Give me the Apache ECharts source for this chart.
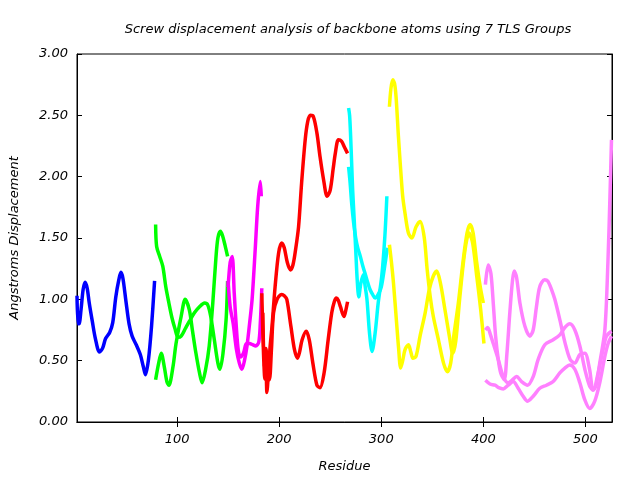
<!DOCTYPE html>
<html>
<head>
<meta charset="utf-8">
<script src="https://cdn.jsdelivr.net/npm/echarts@6/dist/echarts.min.js"></script>
<style>html,body{margin:0;padding:0;background:#fff}#c{width:640px;height:480px}</style>
</head>
<body>
<div id="c"></div>
<script>
const xTicks = [100, 200, 300, 400, 500];

const blueX = [2, 3, 4, 6, 8, 10, 12, 14, 17, 20, 24, 27, 30, 34, 37, 40, 43, 45, 47, 50, 53, 56, 60, 64, 67, 69, 72, 75, 78];
const blueY = [1.03, 0.80, 0.80, 0.92, 1.08, 1.14, 1.09, 0.97, 0.82, 0.68, 0.57, 0.60, 0.68, 0.73, 0.81, 1.02, 1.16, 1.22, 1.17, 0.98, 0.80, 0.70, 0.63, 0.55, 0.45, 0.385, 0.51, 0.78, 1.15];

const greenAX = [79, 80, 83, 86, 89, 92, 95, 98, 101, 104, 108, 112, 117, 122, 127, 130, 133, 136.5, 140, 142, 145, 148, 149.5];
const greenAY = [1.61, 1.43, 1.35, 1.27, 1.10, 0.97, 0.85, 0.76, 0.69, 0.70, 0.76, 0.82, 0.89, 0.94, 0.97, 0.955, 0.86, 0.67, 0.48, 0.43, 0.56, 0.83, 1.15];
const greenBX = [79, 82, 84.5, 87.5, 90, 92, 96, 99, 104, 108, 112, 115, 118.5, 122, 124.5, 128, 131.5, 135, 138, 140, 142.5, 144.5, 147, 149.5];
const greenBY = [0.345, 0.48, 0.56, 0.45, 0.33, 0.30, 0.45, 0.64, 0.86, 1.0, 0.915, 0.75, 0.56, 0.40, 0.32, 0.43, 0.62, 0.97, 1.33, 1.50, 1.555, 1.52, 1.44, 1.35];

const magentaAX = [150, 152, 154, 156, 158, 160, 162, 165, 168, 171, 174, 177, 180, 181.5, 183];
const magentaAY = [1.10, 1.30, 1.35, 1.05, 0.78, 0.58, 0.53, 0.56, 0.64, 0.64, 0.63, 0.62, 0.65, 0.80, 1.09];
const magentaBX = [150, 152, 155, 158, 161, 163.5, 166, 168.5, 171, 173.5, 176.5, 179, 181.5, 182.5];
const magentaBY = [1.15, 0.94, 0.80, 0.60, 0.48, 0.43, 0.50, 0.62, 0.80, 1.00, 1.40, 1.76, 1.96, 1.84];

const redAX = [183, 184.5, 186, 187, 188, 189.5, 191, 193, 196, 199.5, 202.5, 205, 208, 211, 213.5, 216, 219, 222, 225.5, 228, 230.5, 233.5, 237, 240, 243.5, 247, 250, 253, 255, 258, 261, 264, 267];
const redAY = [1.05, 0.60, 0.35, 0.55, 0.24, 0.40, 0.60, 0.78, 1.10, 1.38, 1.46, 1.42, 1.30, 1.24, 1.28, 1.40, 1.59, 1.95, 2.30, 2.45, 2.50, 2.49, 2.355, 2.165, 1.975, 1.84, 1.89, 2.07, 2.19, 2.30, 2.29, 2.24, 2.19];
const redBX = [184, 185.5, 187, 189, 190.5, 192.5, 194.5, 198, 202.5, 205, 207.5, 211.5, 215, 218, 220, 222.5, 226.5, 229.5, 233, 237, 240, 244, 248, 251.5, 254, 256, 258, 260, 263.5, 265, 267];
const redBY = [0.89, 0.45, 0.60, 0.40, 0.345, 0.60, 0.89, 1.0, 1.04, 1.03, 1.0, 0.78, 0.59, 0.52, 0.57, 0.67, 0.74, 0.67, 0.48, 0.30, 0.28, 0.40, 0.67, 0.89, 0.98, 1.01, 0.99, 0.94, 0.86, 0.90, 0.98];

const cyanAX = [268, 269, 270, 271, 272, 273.5, 275, 276.5, 278, 280, 282.5, 284, 286, 288.5, 291, 294, 297, 300.5, 303.5, 305.5];
const cyanAY = [2.56, 2.50, 2.33, 2.11, 1.89, 1.65, 1.40, 1.15, 1.02, 1.13, 1.20, 1.12, 1.0, 0.725, 0.575, 0.725, 0.97, 1.19, 1.51, 1.84];
const cyanBX = [268, 269.5, 271, 273, 275, 277, 279.5, 282, 284.5, 287, 289, 291.5, 294, 297, 300, 303, 306];
const cyanBY = [2.08, 1.95, 1.785, 1.62, 1.50, 1.42, 1.35, 1.27, 1.20, 1.13, 1.08, 1.04, 1.01, 1.04, 1.10, 1.25, 1.42];

const yellowAX = [308, 309.5, 311.3, 313, 314.5, 316.8, 319, 321, 323.3, 326.6, 330, 334, 338, 342, 345, 348, 351, 356, 361, 364.7, 368, 371, 375.5, 380, 384, 387, 390, 393.5, 397, 400];
const yellowAY = [2.57, 2.72, 2.79, 2.76, 2.65, 2.33, 2.06, 1.84, 1.70, 1.54, 1.50, 1.59, 1.635, 1.51, 1.24, 1.02, 0.86, 0.67, 0.48, 0.41, 0.48, 0.70, 0.97, 1.30, 1.54, 1.61, 1.54, 1.30, 1.10, 0.97];
const yellowBX = [308, 310, 312, 315, 317, 319, 321, 323.3, 326.6, 329, 331, 334, 338, 343, 347, 351, 354.3, 358, 362.4, 366.7, 370, 373, 377, 382, 386, 389.5, 393.5, 397.4, 400.6];
const yellowBY = [1.445, 1.30, 1.13, 0.81, 0.60, 0.44, 0.50, 0.59, 0.63, 0.57, 0.52, 0.535, 0.70, 0.89, 1.08, 1.19, 1.23, 1.13, 0.915, 0.70, 0.56, 0.66, 1.02, 1.40, 1.54, 1.46, 1.19, 0.915, 0.64];

const violetAX = [402, 404.8, 407.4, 409.7, 412, 414.6, 417, 420.5, 423, 426, 428.5, 430.2, 432.5, 435.8, 440.7, 445.6, 448.8, 452, 455.3, 460, 463, 466.8, 470, 475, 480, 485, 489.6, 494.5, 499.4, 504, 507.5, 510.5, 514, 519, 522, 524, 525.5];
const violetAY = [1.12, 1.28, 1.21, 0.97, 0.70, 0.51, 0.40, 0.345, 0.55, 0.90, 1.15, 1.23, 1.18, 0.97, 0.78, 0.70, 0.75, 0.94, 1.105, 1.16, 1.15, 1.08, 1.0, 0.83, 0.645, 0.51, 0.48, 0.55, 0.56, 0.43, 0.26, 0.30, 0.48, 0.75, 1.30, 1.84, 2.30];
const violetBX = [402, 404.2, 407, 409.7, 414.6, 419.5, 424.3, 428, 432.5, 437.4, 443.3, 448.8, 453.7, 460.2, 468.4, 474.9, 479.8, 484.7, 489.6, 494.5, 499.4, 504.2, 507.5, 512.4, 517.3, 520.6, 525.5];
const violetBY = [0.75, 0.77, 0.71, 0.64, 0.51, 0.37, 0.32, 0.34, 0.37, 0.33, 0.30, 0.37, 0.51, 0.63, 0.67, 0.71, 0.77, 0.80, 0.75, 0.62, 0.43, 0.29, 0.26, 0.40, 0.59, 0.70, 0.74];
const violetCX = [402, 406.5, 411.4, 415, 419.5, 424.3, 429.2, 434.1, 439, 443.3, 448.8, 455.3, 461.8, 468.4, 474.9, 479.8, 484.7, 489.6, 494.5, 499.4, 504.2, 509.1, 514, 518.9, 522.2, 525.5];
const violetCY = [0.34, 0.31, 0.30, 0.28, 0.27, 0.30, 0.33, 0.275, 0.21, 0.17, 0.21, 0.275, 0.30, 0.33, 0.40, 0.44, 0.465, 0.43, 0.32, 0.18, 0.11, 0.17, 0.32, 0.53, 0.64, 0.70];

const lines = [
  [blueX, blueY, '#0000ff'],
  [greenAX, greenAY, '#00ff00'], [greenBX, greenBY, '#00ff00'],
  [magentaAX, magentaAY, '#ff00ff'], [magentaBX, magentaBY, '#ff00ff'],
  [redAX, redAY, '#ff0000'], [redBX, redBY, '#ff0000'],
  [cyanAX, cyanAY, '#00ffff'], [cyanBX, cyanBY, '#00ffff'],
  [yellowAX, yellowAY, '#ffff00'], [yellowBX, yellowBY, '#ffff00'],
  [violetAX, violetAY, '#ff80ff'], [violetBX, violetBY, '#ff80ff'], [violetCX, violetCY, '#ff80ff']
];

const FONT = 'DejaVu Sans';
const txt = {fontFamily: FONT, fontStyle: 'italic', fontSize: 13, color: '#000'};

const chart = echarts.init(document.getElementById('c'), null, {renderer: 'canvas'});
chart.setOption({
  animation: false,
  backgroundColor: '#fff',
  title: {
    text: 'Screw displacement analysis of backbone atoms using 7 TLS Groups',
    left: 343, top: 18, textAlign: 'center',
    textStyle: Object.assign({}, txt, {fontWeight: 'normal'})
  },
  grid: {left: 76, right: 28, top: 54, bottom: 58, show: true, borderColor: '#000', borderWidth: 1, backgroundColor: 'transparent'},
  xAxis: [{
    type: 'value', min: 2, max: 526, position: 'bottom',
    name: 'Residue', nameLocation: 'middle', nameGap: 38, nameTextStyle: txt,
    axisLine: {show: true, lineStyle: {color: '#000', width: 1}},
    axisTick: {show: true, inside: true, length: 5, customValues: xTicks, lineStyle: {color: '#000'}},
    axisLabel: {customValues: xTicks, margin: 11, ...txt},
    splitLine: {show: false}
  }, {
    type: 'value', min: 2, max: 526, position: 'top',
    axisLine: {show: true, lineStyle: {color: '#000', width: 1}},
    axisTick: {show: true, inside: true, length: 5, customValues: xTicks, lineStyle: {color: '#000'}},
    axisLabel: {show: false}, splitLine: {show: false}
  }],
  yAxis: [{
    type: 'value', min: 0, max: 3, interval: 0.5, position: 'left',
    name: 'Angstroms Displacement', nameLocation: 'middle', nameGap: 56, nameTextStyle: txt,
    axisLine: {show: true, lineStyle: {color: '#000', width: 1}},
    axisTick: {show: true, inside: true, length: 5, lineStyle: {color: '#000'}},
    axisLabel: {margin: 9, formatter: v => v.toFixed(2), ...txt},
    splitLine: {show: false}
  }, {
    type: 'value', min: 0, max: 3, interval: 0.5, position: 'right',
    axisLine: {show: true, lineStyle: {color: '#000', width: 1}},
    axisTick: {show: true, inside: true, length: 5, lineStyle: {color: '#000'}},
    axisLabel: {show: false}, splitLine: {show: false}
  }],
  series: lines.map(([xs, ys, c]) => ({
    type: 'line', xAxisIndex: 0, yAxisIndex: 0,
    data: xs.map((x, i) => [x, ys[i]]),
    showSymbol: false, smooth: 0.3, clip: true,
    lineStyle: {color: c, width: 3.5}, itemStyle: {color: c}
  }))
});
</script>
</body>
</html>
